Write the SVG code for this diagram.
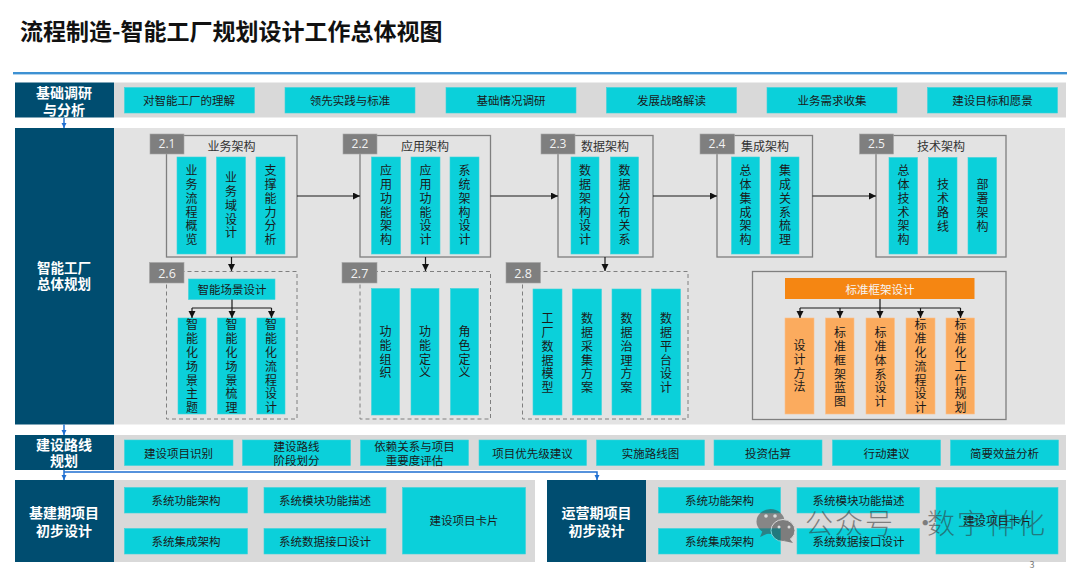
<svg xmlns="http://www.w3.org/2000/svg" width="1080" height="568" viewBox="0 0 1080 568">
<style>
text{font-family:"Noto Sans CJK SC","Microsoft YaHei",sans-serif;fill:#1a1a1a;text-anchor:middle}
.t{font-size:11.5px;dominant-baseline:central}
.v{font-size:12px;writing-mode:vertical-rl;letter-spacing:1.9px;dominant-baseline:central}
.h{font-size:14px;font-weight:700;fill:#fff}
.ti{font-size:12px;fill:#333}
.tag{font-family:"Open Sans",sans-serif;font-size:12px;fill:#f2f2f2}
.c{fill:#0bd0da;stroke:#3fd3da;stroke-width:.6}
.o{fill:#fbab5e;stroke:#fcc08a;stroke-width:.6}
.dark{fill:#004d70}
.g1{fill:#d9d9d9}.g2{fill:#e3e3e3}
.box{fill:none;stroke:#7f7f7f;stroke-width:1.3}
.dash{fill:none;stroke:#7f7f7f;stroke-width:1;stroke-dasharray:4 3}
.tg{fill:#7f7f7f;stroke:#a6a6a6;stroke-width:.6}
.a{fill:none;stroke:#1a1a1a;stroke-width:1.2}
.ah{marker-end:url(#k)}
.b{fill:none;stroke:#1f6fd1;stroke-width:1.5}
.bh{marker-end:url(#bl)}
</style>
<defs>
<marker id="k" markerUnits="userSpaceOnUse" markerWidth="7" markerHeight="8" refX="7" refY="3.5" orient="auto"><path d="M0 0L7 3.500L0 7Z" fill="#111"/></marker>
<marker id="bl" markerUnits="userSpaceOnUse" markerWidth="6" markerHeight="6" refX="5" refY="2.5" orient="auto"><path d="M0 0L5 2.500L0 5Z" fill="#1f6fd1"/></marker>
</defs>
<rect width="1080" height="568" fill="#fff"/>
<text x="20" y="40" style="font-size:23px;font-weight:700;text-anchor:start;fill:#111">流程制造-智能工厂规划设计工作总体视图</text>
<rect x="13" y="72" width="1054" height="2.4" fill="#3d91d3"/>

<g id="band-1">
<rect class="g1" x="114" y="82.500" width="952" height="35"/><rect class="dark" x="15" y="82.500" width="99" height="35"/>
<text class="h" x="64" y="98">基础调研</text><text class="h" x="64" y="114.500">与分析</text>
</g>
<g id="band-1-items">
<rect class="c" x="124.500" y="87.500" width="130" height="25.500"/><text class="t" x="189" y="100">对智能工厂的理解</text>
<rect class="c" x="285" y="87.500" width="130" height="25.500"/><text class="t" x="350" y="100">领先实践与标准</text>
<rect class="c" x="446" y="87.500" width="130" height="25.500"/><text class="t" x="511" y="100">基础情况调研</text>
<rect class="c" x="606.500" y="87.500" width="130" height="25.500"/><text class="t" x="671.500" y="100">发展战略解读</text>
<rect class="c" x="767" y="87.500" width="130" height="25.500"/><text class="t" x="832" y="100">业务需求收集</text>
<rect class="c" x="927.500" y="87.500" width="130" height="25.500"/><text class="t" x="992.500" y="100">建设目标和愿景</text>
</g>

<g id="band-2">
<rect class="g2" x="114" y="128" width="951" height="296.500"/><rect class="dark" x="15" y="128" width="99" height="296.500"/>
<text class="h" x="64" y="273" style="font-size:13.500px">智能工厂</text><text class="h" x="64" y="289" style="font-size:13.500px">总体规划</text>
</g>

<g id="n21">
<rect class="box" x="166.500" y="135.500" width="130.500" height="121.500"/><rect class="tg" x="150" y="134" width="34" height="20"/><text class="tag" x="167" y="148">2.1</text><text class="ti" x="231.500" y="151">业务架构</text>
<rect class="c" x="177" y="157" width="29" height="97"/><text class="v" x="191.500" y="206">业务流程概览</text>
<rect class="c" x="216.500" y="157" width="29" height="97"/><text class="v" x="231" y="206">业务域设计</text>
<rect class="c" x="256" y="157" width="29" height="97"/><text class="v" x="270.500" y="206">支撑能力分析</text>
</g>
<g id="n22">
<rect class="box" x="360" y="135.500" width="130.500" height="121.500"/><rect class="tg" x="343" y="134" width="34" height="20"/><text class="tag" x="360" y="148">2.2</text><text class="ti" x="425" y="151">应用架构</text>
<rect class="c" x="371.500" y="157" width="29" height="97"/><text class="v" x="386" y="206">应用功能架构</text>
<rect class="c" x="411" y="157" width="29" height="97"/><text class="v" x="425.500" y="206">应用功能设计</text>
<rect class="c" x="450" y="157" width="29" height="97"/><text class="v" x="464.500" y="206">系统架构设计</text>
</g>
<g id="n23">
<rect class="box" x="558" y="135.500" width="95" height="121.500"/><rect class="tg" x="541" y="134" width="34" height="20"/><text class="tag" x="558" y="148">2.3</text><text class="ti" x="605" y="151">数据架构</text>
<rect class="c" x="571" y="157" width="28" height="97"/><text class="v" x="585" y="206">数据架构设计</text>
<rect class="c" x="610.500" y="157" width="28" height="97"/><text class="v" x="624.500" y="206">数据分布关系</text>
</g>
<g id="n24">
<rect class="box" x="717" y="135.500" width="95.500" height="121.500"/><rect class="tg" x="700" y="134" width="34.500" height="20"/><text class="tag" x="717" y="148">2.4</text><text class="ti" x="765" y="151">集成架构</text>
<rect class="c" x="731.500" y="157" width="28" height="97"/><text class="v" x="745.500" y="206">总体集成架构</text>
<rect class="c" x="771" y="157" width="28" height="97"/><text class="v" x="785" y="206">集成关系梳理</text>
</g>
<g id="n25">
<rect class="box" x="876" y="135.500" width="130" height="121.500"/><rect class="tg" x="859.500" y="134" width="34" height="20"/><text class="tag" x="876.500" y="148">2.5</text><text class="ti" x="941" y="151">技术架构</text>
<rect class="c" x="889" y="157.500" width="28.500" height="96.500"/><text class="v" x="903.500" y="206">总体技术架构</text>
<rect class="c" x="928.500" y="157.500" width="28.500" height="96.500"/><text class="v" x="943" y="206.500">技术路线</text>
<rect class="c" x="968" y="157.500" width="28.500" height="96.500"/><text class="v" x="982.500" y="206.500">部署架构</text>
</g>
<g id="n26">
<rect class="dash" x="166.500" y="271.500" width="130.500" height="147.500"/><rect class="tg" x="149.500" y="262.500" width="34.500" height="20.500"/><text class="tag" x="167" y="277.500" style="font-size:12.500px">2.6</text>
<rect class="c" x="188.500" y="279" width="86.500" height="20.500"/><text class="t" x="232" y="289">智能场景设计</text>
<rect class="c" x="178" y="318" width="28" height="96"/><text class="v" x="192" y="367">智能化场景主题</text>
<rect class="c" x="217.500" y="318" width="28" height="96"/><text class="v" x="231.500" y="367">智能化场景梳理</text>
<rect class="c" x="257" y="318" width="28" height="96"/><text class="v" x="271" y="367">智能化流程设计</text>
</g>
<g id="n27">
<rect class="dash" x="360" y="271.500" width="130.500" height="147.500"/><rect class="tg" x="342" y="262.500" width="35" height="20.500"/><text class="tag" x="359.500" y="277.500" style="font-size:12.500px">2.7</text>
<rect class="c" x="371.500" y="288.500" width="28" height="126.500"/><text class="v" x="385.500" y="353">功能组织</text>
<rect class="c" x="411" y="288.500" width="28" height="126.500"/><text class="v" x="425" y="353">功能定义</text>
<rect class="c" x="450.500" y="288.500" width="28" height="126.500"/><text class="v" x="464.500" y="353">角色定义</text>
</g>
<g id="n28">
<rect class="dash" x="522.500" y="271.500" width="165.500" height="147.500"/><rect class="tg" x="506" y="262.500" width="34.500" height="20.500"/><text class="tag" x="523" y="277.500" style="font-size:12.500px">2.8</text>
<rect class="c" x="533" y="289" width="29" height="126"/><text class="v" x="547.500" y="354">工厂数据模型</text>
<rect class="c" x="572.500" y="289" width="29" height="126"/><text class="v" x="587" y="354">数据采集方案</text>
<rect class="c" x="612" y="289" width="29" height="126"/><text class="v" x="626.500" y="354">数据治理方案</text>
<rect class="c" x="651.500" y="289" width="29" height="126"/><text class="v" x="666" y="354">数据平台设计</text>
</g>
<g id="std">
<rect class="box" x="752.500" y="271.500" width="253.500" height="148"/>
<rect x="785" y="278" width="189.500" height="21" fill="#f58612"/><text class="t" x="880" y="288.500" style="fill:#f5f5f5">标准框架设计</text>
<rect class="o" x="785" y="318" width="29" height="96"/><text class="v" x="799.500" y="367">设计方法</text>
<rect class="o" x="825.500" y="318" width="28.500" height="96"/><text class="v" x="840" y="368">标准框架蓝图</text>
<rect class="o" x="866" y="318" width="28.500" height="96"/><text class="v" x="880.500" y="368">标准体系设计</text>
<rect class="o" x="906" y="318" width="29" height="96"/><text class="v" x="920.500" y="367">标准化流程设计</text>
<rect class="o" x="946" y="318" width="28.500" height="96"/><text class="v" x="960.500" y="367">标准化工作规划</text>
</g>

<g id="band-3">
<rect class="g1" x="114" y="435" width="952" height="35"/><rect class="dark" x="15" y="435" width="99" height="35"/>
<text class="h" x="64" y="450">建设路线</text><text class="h" x="64" y="466">规划</text>
</g>
<g id="band-3-items">
<rect class="c" x="124.500" y="440" width="108.500" height="25.500"/><text class="t" x="178.500" y="452.700">建设项目识别</text>
<rect class="c" x="242.500" y="440" width="108" height="25.500"/><text class="t" x="296.500" y="445.500">建设路线</text><text class="t" x="296.500" y="459.500">阶段划分</text>
<rect class="c" x="360.500" y="440" width="108" height="25.500"/><text class="t" x="414.500" y="445.500">依赖关系与项目</text><text class="t" x="414.500" y="459.500">重要度评估</text>
<rect class="c" x="479" y="440" width="107.500" height="25.500"/><text class="t" x="532.500" y="452.700">项目优先级建议</text>
<rect class="c" x="596.500" y="440" width="108" height="25.500"/><text class="t" x="650.500" y="452.700">实施路线图</text>
<rect class="c" x="714" y="440" width="108" height="25.500"/><text class="t" x="768" y="452.700">投资估算</text>
<rect class="c" x="832.500" y="440" width="108" height="25.500"/><text class="t" x="886.500" y="452.700">行动建议</text>
<rect class="c" x="950.500" y="440" width="108" height="25.500"/><text class="t" x="1004.500" y="452.700">简要效益分析</text>
</g>

<g id="band-4a">
<rect class="g1" x="114" y="480" width="421" height="82"/><rect class="dark" x="15" y="480" width="99" height="82"/>
<text class="h" x="64" y="518">基建期项目</text><text class="h" x="64" y="536">初步设计</text>
<rect class="c" x="124.500" y="487.500" width="123" height="25.500"/><text class="t" x="186" y="500">系统功能架构</text>
<rect class="c" x="264" y="487.500" width="122" height="25.500"/><text class="t" x="325" y="500">系统模块功能描述</text>
<rect class="c" x="124.500" y="528.500" width="123" height="25.500"/><text class="t" x="186" y="541">系统集成架构</text>
<rect class="c" x="264" y="528.500" width="122" height="25.500"/><text class="t" x="325" y="541">系统数据接口设计</text>
<rect class="c" x="402.500" y="487.500" width="123" height="66.500"/><text class="t" x="464" y="520">建设项目卡片</text>
</g>
<g id="band-4b">
<rect class="g1" x="646" y="480" width="420" height="82"/><rect class="dark" x="547" y="480" width="99" height="82"/>
<text class="h" x="596.500" y="518">运营期项目</text><text class="h" x="596.500" y="536">初步设计</text>
<rect class="c" x="658.500" y="487.500" width="122" height="25.500"/><text class="t" x="719.500" y="500">系统功能架构</text>
<rect class="c" x="797" y="487.500" width="122.500" height="25.500"/><text class="t" x="858.500" y="500">系统模块功能描述</text>
<rect class="c" x="658.500" y="528.500" width="122" height="25.500"/><text class="t" x="719.500" y="541">系统集成架构</text>
<rect class="c" x="797" y="528.500" width="122.500" height="25.500"/><text class="t" x="858.500" y="541">系统数据接口设计</text>
<rect class="c" x="936" y="487.500" width="122" height="66.500"/><text class="t" x="997.500" y="520">建设项目卡片</text>
</g>

<g id="connectors">
<path class="a ah" d="M297 196H360"/>
<path class="a ah" d="M490.500 196H558"/>
<path class="a ah" d="M653 196H717"/>
<path class="a ah" d="M812.500 196H876"/>
<path class="a ah" d="M231.500 257V271"/>
<path class="a ah" d="M425.500 257V271"/>
<path class="a ah" d="M605 257V271"/>
<path class="a" d="M232 299.500V308M192 308H271.500"/>
<path class="a ah" d="M192 308V318"/>
<path class="a ah" d="M232 308V318"/>
<path class="a ah" d="M271.500 308V318"/>
<path class="a" d="M880 299V308M800 308H960.500"/>
<path class="a ah" d="M800 308V318"/>
<path class="a ah" d="M840 308V318"/>
<path class="a ah" d="M880 308V318"/>
<path class="a ah" d="M920.500 308V318"/>
<path class="a ah" d="M960.500 308V318"/>
<path class="b bh" d="M64 118V128"/>
<path class="b bh" d="M64 424.500V435"/>
<path class="b bh" d="M64 470V480"/>
<path class="b bh" d="M64 472H597V480"/>
</g>

<g id="watermark" opacity=".55">
<ellipse cx="770.500" cy="521.500" rx="14" ry="12.500" fill="#444"/><path d="M763 530l-3 7 9-4Z" fill="#444"/>
<ellipse cx="783" cy="530.500" rx="12" ry="11" fill="#333" stroke="#d9d9d9" stroke-width="1"/><path d="M789 538l4 5-9-2Z" fill="#333"/>
<circle cx="766" cy="516" r="1.800" fill="#ddd"/><circle cx="775" cy="516" r="1.800" fill="#ddd"/><circle cx="779" cy="527" r="1.500" fill="#ddd"/><circle cx="789" cy="527" r="1.500" fill="#ddd"/>
<text y="534" style="font-size:28px;font-weight:300;letter-spacing:2px;text-anchor:start;fill:#333"><tspan x="805">公众号</tspan><tspan x="903"> · </tspan><tspan x="927">数字神化</tspan></text>
</g>
<text x="1032" y="568" style="font-size:9px;fill:#777">3</text>
</svg>
